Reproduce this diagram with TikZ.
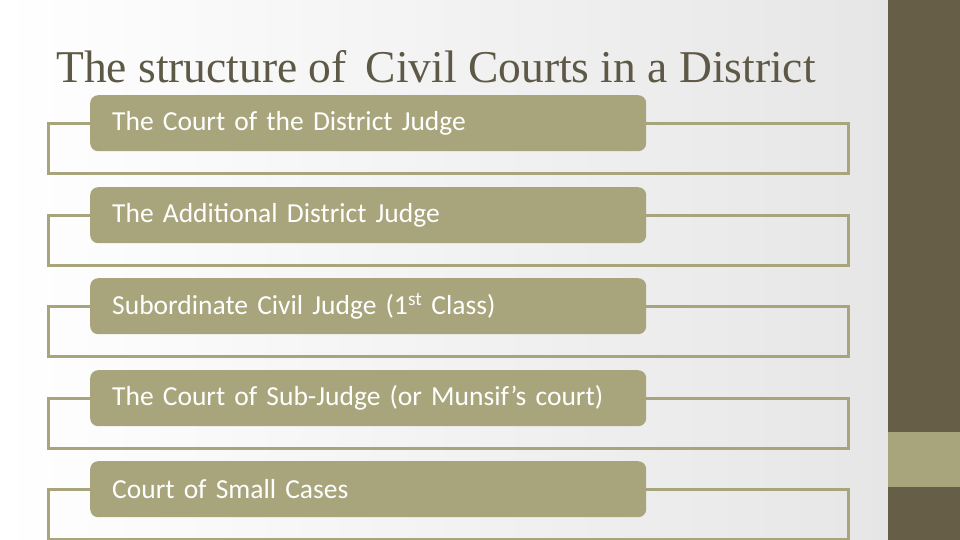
\documentclass[tikz,border=0pt]{standalone}
\usepackage{fontspec}
\setmainfont{Carlito}
\newfontfamily\titlefont{Liberation Serif}
\usetikzlibrary{positioning}
\definecolor{olive}{HTML}{A8A57C}
\definecolor{darkolive}{HTML}{675E48}
\definecolor{titlegray}{HTML}{5E5846}
\definecolor{bggray}{HTML}{E6E6E6}

\begin{document}
\begin{tikzpicture}[x=1pt, y=-1pt,
  courtbox/.style={fill=olive, draw=none, rounded corners=8pt, anchor=north west,
    minimum width=556pt, minimum height=56pt, text width=512pt, inner xsep=22pt,
    align=left, text=white, font=\fontsize{27.5}{32}\selectfont},
  frame/.style={draw=olive, line width=3pt}]
\useasboundingbox (0,0) rectangle (960,540);
%% background and side bar
\shade[left color=white, right color=bggray] (0,0) rectangle (888,540);
\fill[darkolive] (888,0) rectangle (960,540);
\fill[olive] (888,432) rectangle (960,487);
%% title
\node[anchor=base west, inner sep=0, text=titlegray, font=\titlefont\fontsize{45.5}{50}\selectfont]
  (title) at (56,83) {The structure of\, Civil Courts in a District};
%% the five courts
\foreach \i/\top/\name in {1/95/The Court of the District Judge,
  2/187/The Additional District Judge,
  3/278/Subordinate Civil Judge (1\textsuperscript{st} Class),
  4/370/The Court of Sub-Judge (or Munsif’s court),
  5/461/Court of Small Cases}{
  \node[courtbox] (c\i) at (90,\top) {\name};
  \draw[frame] (c\i.west) -- ++(-42,0) -- ++(0,50) -- ++(800,0) -- ++(0,-50) -- (c\i.east);
}
\end{tikzpicture}
\end{document}
